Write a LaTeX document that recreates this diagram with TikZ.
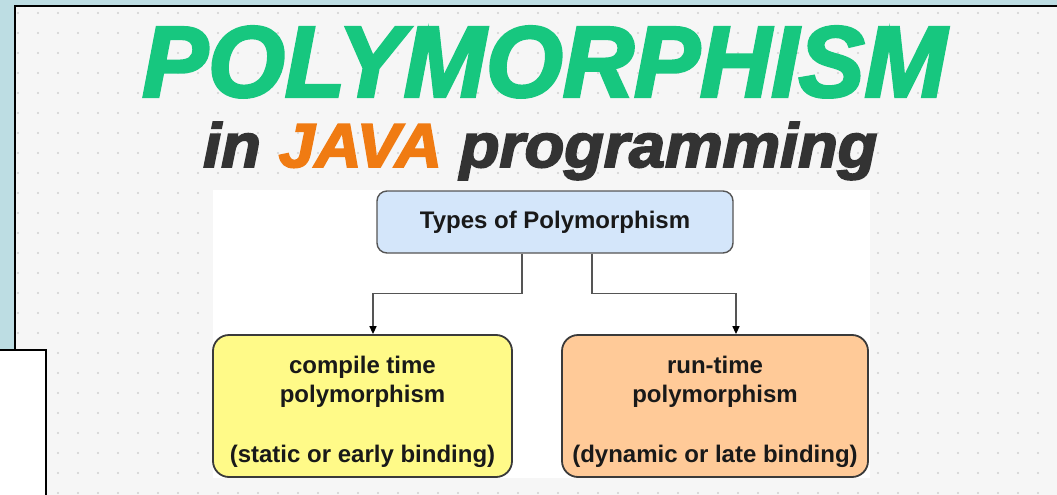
\documentclass[tikz,border=0pt]{standalone}
\usepackage{fontspec}
\usepackage{graphicx}
\setmainfont{Liberation Sans}
\newfontfamily\headfont[BoldItalicFeatures={FakeBold=3}]{Liberation Sans}
\usetikzlibrary{arrows.meta}

\definecolor{slideblue}{HTML}{BDDDE3}
\definecolor{paper}{HTML}{F6F6F6}
\definecolor{dotgray}{HTML}{D0D0D0}
\definecolor{titlegreen}{HTML}{17C77F}
\definecolor{javaorange}{HTML}{F07B12}
\definecolor{titledark}{HTML}{333333}
\definecolor{rootfill}{HTML}{D4E6FA}
\definecolor{compilefill}{HTML}{FFFA88}
\definecolor{runfill}{HTML}{FFCA98}
\definecolor{edgegray}{HTML}{555555}
\definecolor{boxline}{HTML}{3A3A3A}

\begin{document}
\begin{tikzpicture}[x=1pt,y=-1pt,
  rootbox/.style={draw=edgegray, line width=1.4pt, fill=rootfill,
    rounded corners=10pt, inner sep=0pt, minimum width=356pt, minimum height=62pt},
  leafbox/.style={draw=boxline, line width=1.8pt, rounded corners=16pt,
    inner sep=0pt, minimum height=142pt},
  lbl/.style={inner sep=0pt, font=\fontsize{24}{29}\selectfont\bfseries, text=black!90},
  conn/.style={draw=edgegray, line width=1.4pt,
    -{Triangle[length=8pt,width=7pt,color=black]}},
  titletext/.style={inner sep=0pt, anchor=base west}
]
\useasboundingbox (0,0) rectangle (1057,495);

% slide background and framed picture
\fill[slideblue] (0,0) rectangle (1057,495);
\fill[paper] (15,6) rectangle (1057,495);
\begin{scope}
  \clip (15,6) rectangle (1057,495);
  \foreach \x in {18,38,...,1058}
    \foreach \y in {13,33,...,495}
      \fill[dotgray] (\x,\y) circle (1.2);
\end{scope}
\draw[black, line width=2pt] (15,495) -- (15,6) -- (1057,6);
\fill[white] (213,190) rectangle (870,478);

% white box overlapping the lower left corner
\fill[white] (0,350) rectangle (46,495);
\draw[black, line width=2pt] (0,350) -- (46,350) -- (46,495);

% headline
\node[titletext] (title) at (142,96.5)
  {\resizebox{804pt}{70pt}{\headfont\bfseries\itshape\color{titlegreen}POLYMORPHISM}};
\node[titletext] (subtitle) at (203,167)
  {\resizebox{674pt}{45pt}{\headfont\bfseries\itshape\color{titledark}in \color{javaorange}JAVA \color{titledark}programming}};

% diagram
\node[rootbox] (root) at (555,222) {};
\node[lbl] (root-text) at (root.center) {Types of Polymorphism};

\node[leafbox, fill=compilefill, minimum width=299pt] (compile) at (362.5,406) {};
\node[lbl, anchor=base] (compile-a) at (362.5,373) {compile time};
\node[lbl, anchor=base] (compile-b) at (362.5,402) {polymorphism};
\node[lbl, anchor=base] (compile-c) at (362.5,462) {(static or early binding)};

\node[leafbox, fill=runfill, minimum width=306pt] (runtime) at (715,406) {};
\node[lbl, anchor=base] (runtime-a) at (715,373) {run-time};
\node[lbl, anchor=base] (runtime-b) at (715,402) {polymorphism};
\node[lbl, anchor=base] (runtime-c) at (715,462) {(dynamic or late binding)};

\draw[conn] ([xshift=-33pt]root.south) -- ++(0,40) -| ([xshift=10.5pt]compile.north);
\draw[conn] ([xshift=37pt]root.south) -- ++(0,40) -| ([xshift=21pt]runtime.north);
\end{tikzpicture}
\end{document}
